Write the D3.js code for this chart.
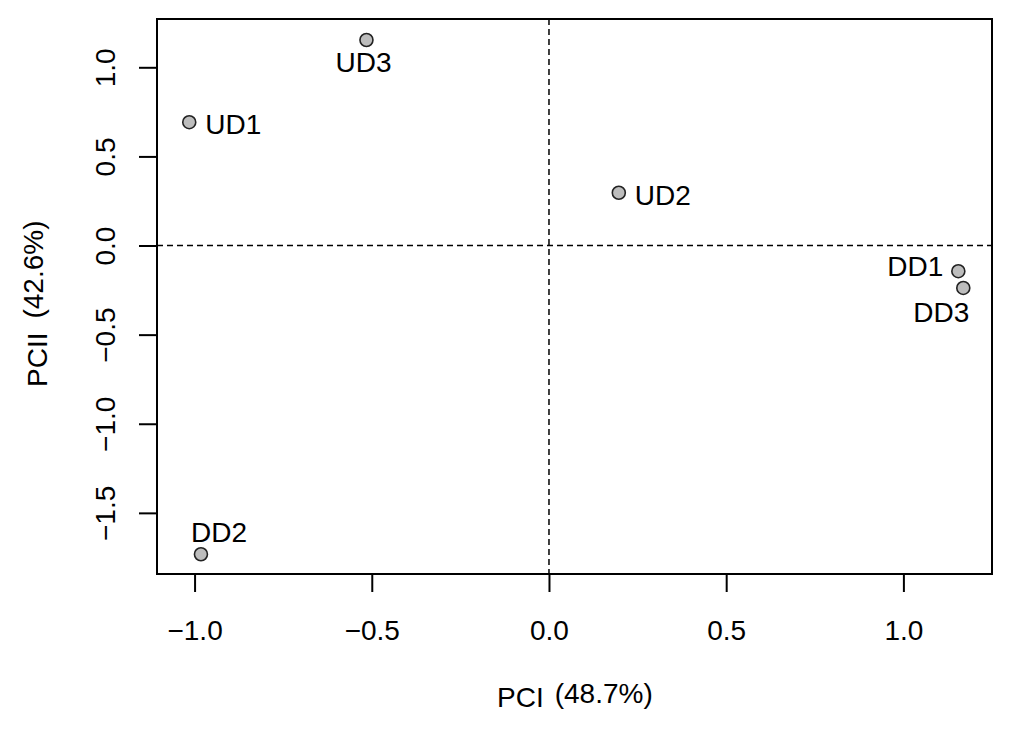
<!DOCTYPE html>
<html>
<head>
<meta charset="utf-8">
<script src="https://cdn.jsdelivr.net/npm/d3@7"></script>
<style>
  body { margin: 0; background: #fff; }
  text { font-family: "Liberation Sans", Arial, sans-serif; fill: #000; }
</style>
</head>
<body>
<svg></svg>
<script>
//svg size
const width = 1024;
const height = 734;

//data: sample names, PC scores and label side
//(1 below, 2 left, 3 above, 4 right, 5 above left-aligned, 6 below right-aligned)
var samples = ['UD1', 'UD2', 'UD3', 'DD1', 'DD2', 'DD3'];
var pc1 = [-1.015, 0.197, -0.515, 1.155, -0.982, 1.169];
var pc2 = [0.692, 0.296, 1.153, -0.144, -1.732, -0.238];
var labelPos = [4, 4, 1, 2, 5, 6];

var xTicks = [-1.0, -0.5, 0.0, 0.5, 1.0];
var yTicks = [-1.5, -1.0, -0.5, 0.0, 0.5, 1.0];

//plot box
var margin = {left: 157, top: 19, right: 32, bottom: 160};
var plotW = width - margin.left - margin.right;
var plotH = height - margin.top - margin.bottom;
var fontSize = '28px';

var svg = d3.select('svg')
    .attr('width', width)
    .attr('height', height);

//scales
var x = d3.scaleLinear().domain([-1.106, 1.250]).range([0, plotW]);
var y = d3.scaleLinear().domain([-1.843, 1.271]).range([plotH, 0]);

var g = svg.append('g')
    .attr('transform', 'translate(' + margin.left + ',' + margin.top + ')');

var fmt = d3.format('.1f');

//x axis
var xAxis = g.append('g')
    .attr('transform', 'translate(0,' + plotH + ')')
    .call(d3.axisBottom(x).tickValues(xTicks).tickFormat(fmt).tickSize(18));
xAxis.select('.domain').remove();
xAxis.selectAll('line').attr('stroke', '#000').attr('stroke-width', 2);
xAxis.selectAll('text')
     .attr('y', 66)
     .attr('dy', 0)
     .style('font-size', fontSize)
     .style('font-family', '"Liberation Sans", Arial, sans-serif');

//y axis, labels rotated like R
var yAxis = g.append('g')
    .call(d3.axisLeft(y).tickValues(yTicks).tickFormat(fmt).tickSize(18));
yAxis.select('.domain').remove();
yAxis.selectAll('line').attr('stroke', '#000').attr('stroke-width', 2);
yAxis.selectAll('text')
     .attr('x', 0)
     .attr('y', -42)
     .attr('dy', 0)
     .attr('text-anchor', 'middle')
     .attr('transform', 'rotate(-90)')
     .style('font-size', fontSize)
     .style('font-family', '"Liberation Sans", Arial, sans-serif');

//dashed zero lines
g.append('line')
 .attr('x1', x(0)).attr('x2', x(0))
 .attr('y1', 0).attr('y2', plotH)
 .attr('stroke', '#000')
 .attr('stroke-width', 1.5)
 .attr('stroke-dasharray', '6,4');

g.append('line')
 .attr('x1', 0).attr('x2', plotW)
 .attr('y1', y(0)).attr('y2', y(0))
 .attr('stroke', '#000')
 .attr('stroke-width', 1.5)
 .attr('stroke-dasharray', '6,4');

//box
g.append('rect')
 .attr('x', 0).attr('y', 0)
 .attr('width', plotW).attr('height', plotH)
 .attr('fill', 'none')
 .attr('stroke', '#000')
 .attr('stroke-width', 2);

//points
var pts = samples.map(function(d, i) {
    return {name: d, x: pc1[i], y: pc2[i], pos: labelPos[i]};
});

g.selectAll('circle.pt')
 .data(pts)
 .enter().append('circle')
 .attr('class', 'pt')
 .attr('cx', function(d) { return x(d.x); })
 .attr('cy', function(d) { return y(d.y); })
 .attr('r', 6.5)
 .attr('fill', '#bdbdbd')
 .attr('stroke', '#222')
 .attr('stroke-width', 1.6);

//point labels
g.selectAll('text.lab')
 .data(pts)
 .enter().append('text')
 .attr('class', 'lab')
 .attr('x', function(d) {
     if (d.pos == 4) return x(d.x) + 16;
     if (d.pos == 2) return x(d.x) - 15;
     if (d.pos == 5) return x(d.x) - 10;
     if (d.pos == 6) return x(d.x) + 6;
     return x(d.x) - 3;
 })
 .attr('y', function(d) {
     if (d.pos == 1) return y(d.y) + 32;
     if (d.pos == 6) return y(d.y) + 34;
     if (d.pos == 3 || d.pos == 5) return y(d.y) - 12;
     if (d.pos == 2) return y(d.y) + 5;
     return y(d.y) + 12;
 })
 .attr('text-anchor', function(d) {
     if (d.pos == 4 || d.pos == 5) return 'start';
     if (d.pos == 2 || d.pos == 6) return 'end';
     return 'middle';
 })
 .style('font-size', fontSize)
 .text(function(d) { return d.name; });

//axis titles
var xt = svg.append('text')
    .attr('x', 497)
    .attr('y', 707)
    .style('font-size', fontSize);
xt.append('tspan').text('PCI');
xt.append('tspan').attr('dx', 11).attr('dy', -4).text('(48.7%)');

var yt = svg.append('text')
    .attr('transform', 'translate(47,387) rotate(-90)')
    .style('font-size', fontSize);
yt.append('tspan').text('PCII');
yt.append('tspan').attr('dx', 14).attr('dy', -4).text('(42.6%)');
</script>
</body>
</html>
